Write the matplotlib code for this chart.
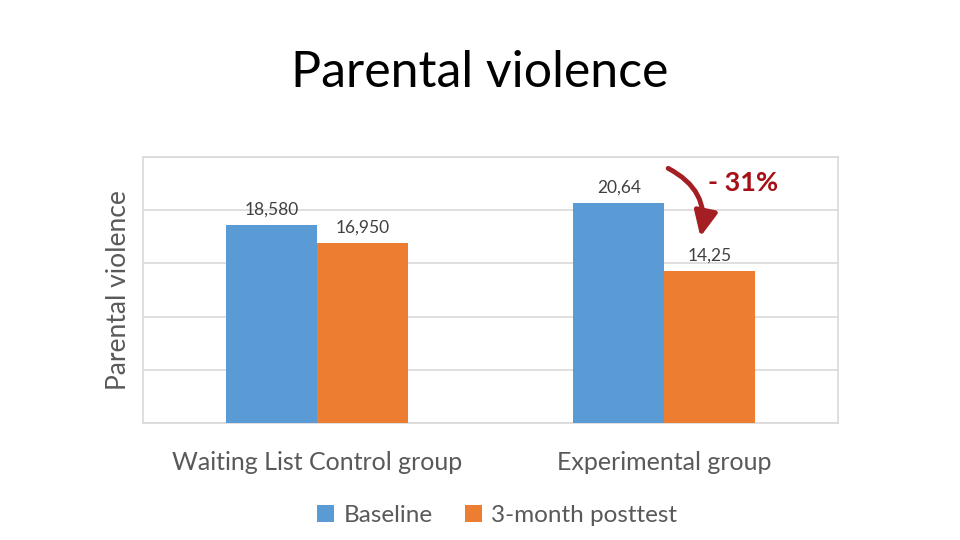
import numpy as np
import matplotlib.pyplot as plt

plt.rcParams['font.family'] = ['Lato', 'DejaVu Sans']

# Données
groupes = ["Waiting List Control group", "Experimental group"]
baseline = [18.580, 20.64]
posttest = [16.950, 14.25]
labels_baseline = ["18,580", "20,64"]
labels_posttest = ["16,950", "14,25"]
series = ["Baseline", "3-month posttest"]

bleu = '#5B9BD5'
orange = '#ED7D31'
gris = '#595959'

fig = plt.figure(figsize=(9.6, 5.4), dpi=100)
ax = fig.add_axes([0.149, 0.2167, 0.724, 0.4926])

x = np.arange(len(groupes))
w = 0.262
b1 = ax.bar(x - w/2, baseline, w, color=bleu, label=series[0], zorder=3)
b2 = ax.bar(x + w/2, posttest, w, color=orange, label=series[1], zorder=3)

# étiquettes des barres
for rect, lab in zip(b1, labels_baseline):
    ax.text(rect.get_x() + rect.get_width()/2, rect.get_height() + 0.7, lab,
            ha='center', va='bottom', fontsize=12.5, color='#404040')
for rect, lab in zip(b2, labels_posttest):
    ax.text(rect.get_x() + rect.get_width()/2, rect.get_height() + 0.7, lab,
            ha='center', va='bottom', fontsize=12.5, color='#404040')

ax.set_xlim(-0.5, 1.5)
ax.set_ylim(0, 25)
ax.set_yticks([0, 5, 10, 15, 20, 25])
ax.set_yticklabels([])
ax.tick_params(axis='both', length=0)
ax.grid(axis='y', color='#D9D9D9', linewidth=1.2, zorder=0)
ax.set_xticks(x)
ax.set_xticklabels(groupes, fontsize=18, color=gris)
ax.tick_params(axis='x', pad=20)
for s in ax.spines.values():
    s.set_color('#D9D9D9')
    s.set_linewidth(1.2)

ax.set_ylabel("Parental violence", fontsize=19, color=gris, labelpad=5)

# flèche -31%
ax.annotate("", xy=(0.801, 0.69), xytext=(0.752, 0.962), xycoords='axes fraction',
            arrowprops=dict(arrowstyle='-|>,head_length=1.5,head_width=0.7',
                            connectionstyle='arc3,rad=-0.4', color='#A31F24', lw=3.5))
ax.text(0.863, 0.902, "- 31%", transform=ax.transAxes, ha='center', va='center',
        fontsize=19.5, fontweight='bold', color='#A50F15')

fig.text(0.5, 0.865, "Parental violence", ha='center', va='center', fontsize=36, color='black')

fig.legend(handles=[b1, b2], labels=series, loc='center', bbox_to_anchor=(0.518, 0.046),
           ncol=2, frameon=False, fontsize=17.5, labelcolor=gris, handlelength=0.7,
           handleheight=0.7, columnspacing=1.3, handletextpad=0.4)

plt.savefig('out.png', dpi=100)
